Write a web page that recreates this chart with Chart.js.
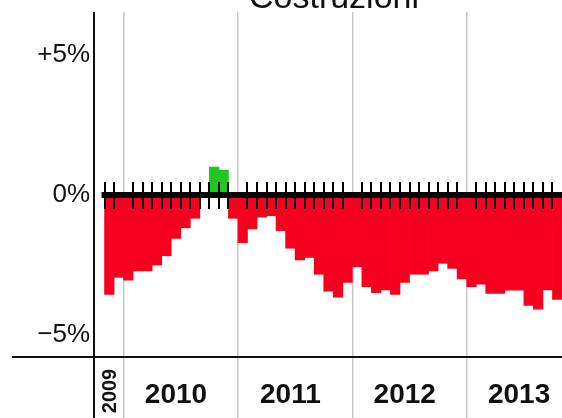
<!DOCTYPE html>
<html lang="it">
<head>
<meta charset="utf-8">
<title>Costruzioni</title>
<script src="https://cdn.jsdelivr.net/npm/chart.js@4.4.1/dist/chart.umd.min.js"></script>
<style>
    html, body { margin: 0; padding: 0; background: #fff; }
    canvas { display: block; }
</style>
</head>
<body>
<canvas id="chart" width="562" height="418"></canvas>
<script>
const title = 'Costruzioni';

const months = [
    '2009-10', '2009-11', '2009-12',
    '2010-01', '2010-02', '2010-03', '2010-04', '2010-05', '2010-06',
    '2010-07', '2010-08', '2010-09', '2010-10', '2010-11', '2010-12',
    '2011-01', '2011-02', '2011-03', '2011-04', '2011-05', '2011-06',
    '2011-07', '2011-08', '2011-09', '2011-10', '2011-11', '2011-12',
    '2012-01', '2012-02', '2012-03', '2012-04', '2012-05', '2012-06',
    '2012-07', '2012-08', '2012-09', '2012-10', '2012-11', '2012-12',
    '2013-01', '2013-02', '2013-03', '2013-04', '2013-05', '2013-06',
    '2013-07', '2013-08', '2013-09', '2013-10'
];

// variazione %
const values = [
    null, -3.55, -2.94,
    -3.04, -2.71, -2.71, -2.50, -2.17, -1.55,
    -1.17, -0.83, 0, 1.00, 0.89, -0.83,
    -1.70, -1.21, -0.79, -0.74, -1.27, -1.90,
    -2.32, -2.23, -2.83, -3.43, -3.65, -3.12,
    -2.56, -3.27, -3.49, -3.39, -3.55, -3.12,
    -2.83, -2.83, -2.71, -2.44, -2.62, -3.00,
    -3.27, -3.18, -3.51, -3.51, -3.40, -3.40,
    -3.94, -4.08, -3.39, -3.73
];

const years = ['2009', '2010', '2011', '2012', '2013'];
const yTicks = [-5, 0, 5];

const RED = '#f5001e';
const GREEN = '#1ec81e';
const GRID = '#c8c8c8';
const INK = '#111';

const yearStarts = months
    .map((m, i) => (m.endsWith('-01') ? i : -1))
    .filter(i => i > 0);

function labelIndex(year) {
    const idx = months.map((m, i) => (m.startsWith(year) ? i : -1)).filter(i => i >= 0);
    const june = months.indexOf(year + '-06');
    if (june >= 0) return june;
    return idx[Math.floor(idx.length / 2)];
}

function formatTick(v) {
    if (v > 0) return '+' + v + '%';
    if (v < 0) return '\u2212' + Math.abs(v) + '%';
    return '0%';
}

const decorPlugin = {
    id: 'decor',
    afterDatasetsDraw(chart) {
        const { ctx, chartArea, scales: { x, y } } = chart;
        const half = (x.getPixelForValue(1) - x.getPixelForValue(0)) / 2;
        const zeroY = y.getPixelForValue(0);
        const first = values.findIndex(v => v !== null);

        ctx.save();
        ctx.strokeStyle = '#000';
        ctx.lineWidth = 6;
        ctx.beginPath();
        ctx.moveTo(x.getPixelForValue(first) - half - 3, zeroY);
        ctx.lineTo(chartArea.right, zeroY);
        ctx.stroke();

        // tacche dei mesi
        ctx.lineWidth = 2;
        ctx.beginPath();
        for (let i = first; i < months.length; i++) {
            if (yearStarts.includes(i)) continue;
            const px = Math.round(x.getPixelForValue(i) - half);
            ctx.moveTo(px, zeroY - 13);
            ctx.lineTo(px, zeroY + 14);
        }
        ctx.stroke();
        ctx.restore();
    },
    afterDraw(chart) {
        const { ctx, chartArea, scales: { x } } = chart;
        const W = chart.width, H = chart.height;

        ctx.save();
        ctx.strokeStyle = INK;
        ctx.lineWidth = 2;
        ctx.beginPath();
        ctx.moveTo(chartArea.left - 1, chartArea.top);
        ctx.lineTo(chartArea.left - 1, H);
        ctx.moveTo(12, chartArea.bottom + 1);
        ctx.lineTo(W, chartArea.bottom + 1);
        ctx.stroke();

        ctx.fillStyle = INK;
        ctx.textAlign = 'center';
        ctx.textBaseline = 'alphabetic';
        ctx.font = '34px "Liberation Sans", Arial, sans-serif';
        ctx.fillText(title, 334, 8);

        const labelY = chartArea.bottom + 37;
        years.forEach(year => {
            const count = months.filter(m => m.startsWith(year)).length;
            const px = x.getPixelForValue(labelIndex(year));
            if (count < 4) {
                ctx.save();
                ctx.font = 'bold 20px "Liberation Sans", Arial, sans-serif';
                ctx.translate(px + 7, labelY - 2);
                ctx.rotate(-Math.PI / 2);
                ctx.fillText(year, 0, 0);
                ctx.restore();
            } else {
                ctx.font = 'bold 28px "Liberation Sans", Arial, sans-serif';
                ctx.fillText(year, px, labelY + 10);
            }
        });
        ctx.restore();
    }
};

Chart.defaults.font.family = '"Liberation Sans", Arial, sans-serif';

new Chart(document.getElementById('chart'), {
    type: 'bar',
    data: {
        labels: months,
        datasets: [{
            data: values,
            backgroundColor: ctx => (ctx.raw >= 0 ? GREEN : RED),
            borderWidth: 0,
            barPercentage: 1,
            categoryPercentage: 1
        }]
    },
    options: {
        responsive: false,
        animation: false,
        layout: { padding: { top: 12, right: 0, bottom: 0, left: 0 } },
        plugins: {
            legend: { display: false },
            tooltip: { enabled: false }
        },
        scales: {
            x: {
                z: 1,
                ticks: { display: false },
                border: { display: false },
                grid: {
                    offset: true,
                    color: ctx => (yearStarts.includes(ctx.index) ? GRID : 'rgba(0,0,0,0)'),
                    lineWidth: 1.5,
                    tickLength: 62
                },
                afterFit: scale => {
                    scale.height = 62;
                    scale.paddingLeft = 0;
                    scale.paddingRight = 0;
                }
            },
            y: {
                min: -5.75,
                max: 6.54,
                border: { display: false },
                grid: { display: false, drawTicks: false },
                afterBuildTicks: scale => { scale.ticks = yTicks.map(v => ({ value: v })); },
                ticks: {
                    color: INK,
                    padding: 5,
                    font: { size: 26 },
                    callback: v => formatTick(v)
                },
                afterFit: scale => {
                    scale.width = 95;
                    scale.paddingTop = 0;
                    scale.paddingBottom = 0;
                }
            }
        }
    },
    plugins: [decorPlugin]
});
</script>
</body>
</html>
